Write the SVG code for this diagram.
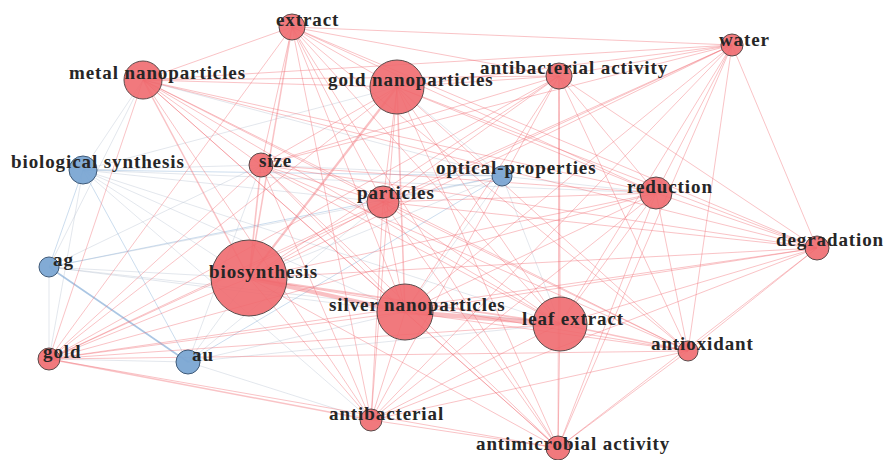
<svg xmlns="http://www.w3.org/2000/svg" width="888" height="460" viewBox="0 0 888 460">
<style>
.r{stroke:#f06a70;stroke-opacity:0.4;stroke-width:1;fill:none}
.t{stroke:#f06a70;stroke-opacity:0.42;fill:none}
.m{stroke:#b9c3d3;stroke-opacity:0.4;stroke-width:1;fill:none}
.b{stroke:#8fb3d9;stroke-opacity:0.45;stroke-width:1;fill:none}
.nr{fill:#ef6a6f;fill-opacity:0.9;stroke:#5a4a4a;stroke-width:1}
.nb{fill:#7ba6d3;fill-opacity:0.95;stroke:#3f5a78;stroke-width:1}
text{font-family:"Liberation Serif","Times New Roman",serif;font-weight:bold;font-size:19px;letter-spacing:0.9px;fill:#262626}
</style>
<rect width="888" height="460" fill="#ffffff"/>
<g id="connectors">
<g id="mixed-edges">
<line class="m" x1="83" y1="170" x2="143" y2="80"/>
<line class="m" x1="83" y1="170" x2="261" y2="165"/>
<line class="m" x1="83" y1="170" x2="383" y2="202"/>
<line class="m" x1="83" y1="170" x2="249" y2="278"/>
<line class="m" x1="83" y1="170" x2="49" y2="359"/>
<line class="m" x1="83" y1="170" x2="405" y2="312"/>
<line class="m" x1="83" y1="170" x2="560" y2="324"/>
<line class="m" x1="83" y1="170" x2="656" y2="193"/>
<line class="m" x1="83" y1="170" x2="397" y2="87"/>
<line class="m" x1="83" y1="170" x2="371" y2="420"/>
<line class="m" x1="49" y1="267" x2="249" y2="278"/>
<line class="m" x1="49" y1="267" x2="49" y2="359"/>
<line class="m" x1="49" y1="267" x2="405" y2="312"/>
<line class="m" x1="49" y1="267" x2="560" y2="324"/>
<line class="m" x1="49" y1="267" x2="383" y2="202"/>
<line class="m" x1="49" y1="267" x2="261" y2="165"/>
<line class="m" x1="49" y1="267" x2="143" y2="80"/>
<line class="m" x1="188" y1="362" x2="249" y2="278"/>
<line class="m" x1="188" y1="362" x2="49" y2="359"/>
<line class="m" x1="188" y1="362" x2="405" y2="312"/>
<line class="m" x1="188" y1="362" x2="560" y2="324"/>
<line class="m" x1="188" y1="362" x2="383" y2="202"/>
<line class="m" x1="188" y1="362" x2="371" y2="420"/>
<line class="m" x1="188" y1="362" x2="261" y2="165"/>
<line class="m" x1="502" y1="176" x2="249" y2="278"/>
<line class="m" x1="502" y1="176" x2="405" y2="312"/>
<line class="m" x1="502" y1="176" x2="560" y2="324"/>
<line class="m" x1="502" y1="176" x2="261" y2="165"/>
<line class="m" x1="502" y1="176" x2="397" y2="87"/>
<line class="m" x1="502" y1="176" x2="383" y2="202"/>
<line class="m" x1="502" y1="176" x2="656" y2="193"/>
<line class="m" x1="502" y1="176" x2="143" y2="80"/>
</g>
<g id="blue-edges">
<line class="b" x1="83" y1="170" x2="502" y2="176"/>
<line class="b" x1="83" y1="170" x2="49" y2="267"/>
<line class="b" x1="83" y1="170" x2="188" y2="362"/>
<line class="b" x1="49" y1="267" x2="188" y2="362" style="stroke-width:1.6;stroke-opacity:0.75"/>
<line class="b" x1="49" y1="267" x2="502" y2="176"/>
<line class="b" x1="188" y1="362" x2="502" y2="176"/>
</g>
<g id="red-edges">
<line class="r" x1="292" y1="27" x2="143" y2="80"/>
<line class="r" x1="292" y1="27" x2="397" y2="87"/>
<line class="r" x1="292" y1="27" x2="559" y2="76"/>
<line class="r" x1="292" y1="27" x2="732" y2="45"/>
<line class="r" x1="292" y1="27" x2="261" y2="165"/>
<line class="r" x1="292" y1="27" x2="383" y2="202"/>
<line class="r" x1="292" y1="27" x2="656" y2="193"/>
<line class="r" x1="292" y1="27" x2="817" y2="248"/>
<line class="r" x1="292" y1="27" x2="249" y2="278" style="stroke-width:1.5"/>
<line class="r" x1="292" y1="27" x2="49" y2="359"/>
<line class="r" x1="292" y1="27" x2="405" y2="312"/>
<line class="r" x1="292" y1="27" x2="560" y2="324"/>
<line class="r" x1="292" y1="27" x2="371" y2="420"/>
<line class="r" x1="292" y1="27" x2="558" y2="448"/>
<line class="r" x1="292" y1="27" x2="688" y2="351"/>
<line class="r" x1="143" y1="80" x2="397" y2="87"/>
<line class="r" x1="143" y1="80" x2="559" y2="76"/>
<line class="r" x1="143" y1="80" x2="732" y2="45"/>
<line class="r" x1="143" y1="80" x2="261" y2="165"/>
<line class="r" x1="143" y1="80" x2="383" y2="202"/>
<line class="r" x1="143" y1="80" x2="656" y2="193"/>
<line class="r" x1="143" y1="80" x2="817" y2="248"/>
<line class="r" x1="143" y1="80" x2="249" y2="278" style="stroke-width:1.5"/>
<line class="r" x1="143" y1="80" x2="49" y2="359"/>
<line class="r" x1="143" y1="80" x2="405" y2="312"/>
<line class="r" x1="143" y1="80" x2="560" y2="324"/>
<line class="r" x1="143" y1="80" x2="371" y2="420"/>
<line class="r" x1="143" y1="80" x2="558" y2="448"/>
<line class="r" x1="143" y1="80" x2="688" y2="351"/>
<line class="r" x1="397" y1="87" x2="559" y2="76"/>
<line class="r" x1="397" y1="87" x2="732" y2="45"/>
<line class="r" x1="397" y1="87" x2="261" y2="165"/>
<line class="r" x1="397" y1="87" x2="383" y2="202"/>
<line class="r" x1="397" y1="87" x2="656" y2="193"/>
<line class="r" x1="397" y1="87" x2="817" y2="248"/>
<line class="r" x1="397" y1="87" x2="49" y2="359"/>
<line class="r" x1="397" y1="87" x2="405" y2="312" style="stroke-width:1.6"/>
<line class="r" x1="397" y1="87" x2="560" y2="324"/>
<line class="r" x1="397" y1="87" x2="371" y2="420"/>
<line class="r" x1="397" y1="87" x2="558" y2="448"/>
<line class="r" x1="397" y1="87" x2="688" y2="351"/>
<line class="r" x1="559" y1="76" x2="732" y2="45"/>
<line class="r" x1="559" y1="76" x2="261" y2="165"/>
<line class="r" x1="559" y1="76" x2="383" y2="202"/>
<line class="r" x1="559" y1="76" x2="656" y2="193"/>
<line class="r" x1="559" y1="76" x2="817" y2="248"/>
<line class="r" x1="559" y1="76" x2="249" y2="278"/>
<line class="r" x1="559" y1="76" x2="49" y2="359"/>
<line class="r" x1="559" y1="76" x2="405" y2="312"/>
<line class="r" x1="559" y1="76" x2="560" y2="324" style="stroke-width:1.4"/>
<line class="r" x1="559" y1="76" x2="371" y2="420"/>
<line class="r" x1="559" y1="76" x2="558" y2="448"/>
<line class="r" x1="559" y1="76" x2="688" y2="351"/>
<line class="r" x1="732" y1="45" x2="261" y2="165"/>
<line class="r" x1="732" y1="45" x2="383" y2="202"/>
<line class="r" x1="732" y1="45" x2="656" y2="193"/>
<line class="r" x1="732" y1="45" x2="817" y2="248"/>
<line class="r" x1="732" y1="45" x2="249" y2="278"/>
<line class="r" x1="732" y1="45" x2="405" y2="312"/>
<line class="r" x1="732" y1="45" x2="560" y2="324"/>
<line class="r" x1="732" y1="45" x2="371" y2="420"/>
<line class="r" x1="732" y1="45" x2="558" y2="448"/>
<line class="r" x1="732" y1="45" x2="688" y2="351"/>
<line class="r" x1="732" y1="45" x2="49" y2="359"/>
<line class="r" x1="261" y1="165" x2="383" y2="202"/>
<line class="r" x1="261" y1="165" x2="656" y2="193"/>
<line class="r" x1="261" y1="165" x2="817" y2="248"/>
<line class="r" x1="261" y1="165" x2="249" y2="278" style="stroke-width:1.6"/>
<line class="r" x1="261" y1="165" x2="49" y2="359"/>
<line class="r" x1="261" y1="165" x2="405" y2="312"/>
<line class="r" x1="261" y1="165" x2="560" y2="324"/>
<line class="r" x1="261" y1="165" x2="371" y2="420"/>
<line class="r" x1="261" y1="165" x2="558" y2="448"/>
<line class="r" x1="261" y1="165" x2="688" y2="351"/>
<line class="r" x1="383" y1="202" x2="656" y2="193"/>
<line class="r" x1="383" y1="202" x2="817" y2="248"/>
<line class="r" x1="383" y1="202" x2="249" y2="278"/>
<line class="r" x1="383" y1="202" x2="49" y2="359"/>
<line class="r" x1="383" y1="202" x2="405" y2="312"/>
<line class="r" x1="383" y1="202" x2="560" y2="324"/>
<line class="r" x1="383" y1="202" x2="371" y2="420"/>
<line class="r" x1="383" y1="202" x2="558" y2="448"/>
<line class="r" x1="383" y1="202" x2="688" y2="351"/>
<line class="r" x1="656" y1="193" x2="817" y2="248"/>
<line class="r" x1="656" y1="193" x2="249" y2="278"/>
<line class="r" x1="656" y1="193" x2="49" y2="359"/>
<line class="r" x1="656" y1="193" x2="405" y2="312"/>
<line class="r" x1="656" y1="193" x2="560" y2="324"/>
<line class="r" x1="656" y1="193" x2="371" y2="420"/>
<line class="r" x1="656" y1="193" x2="558" y2="448"/>
<line class="r" x1="656" y1="193" x2="688" y2="351"/>
<line class="r" x1="817" y1="248" x2="249" y2="278"/>
<line class="r" x1="817" y1="248" x2="49" y2="359"/>
<line class="r" x1="817" y1="248" x2="405" y2="312"/>
<line class="r" x1="817" y1="248" x2="560" y2="324"/>
<line class="r" x1="817" y1="248" x2="371" y2="420"/>
<line class="r" x1="817" y1="248" x2="558" y2="448"/>
<line class="r" x1="817" y1="248" x2="688" y2="351"/>
<line class="r" x1="249" y1="278" x2="49" y2="359"/>
<line class="r" x1="249" y1="278" x2="560" y2="324" style="stroke-width:1.8"/>
<line class="r" x1="249" y1="278" x2="371" y2="420"/>
<line class="r" x1="249" y1="278" x2="558" y2="448"/>
<line class="r" x1="249" y1="278" x2="688" y2="351"/>
<line class="r" x1="49" y1="359" x2="405" y2="312"/>
<line class="r" x1="49" y1="359" x2="560" y2="324"/>
<line class="r" x1="49" y1="359" x2="371" y2="420" style="stroke-width:1.4"/>
<line class="r" x1="49" y1="359" x2="558" y2="448"/>
<line class="r" x1="49" y1="359" x2="688" y2="351"/>
<line class="r" x1="405" y1="312" x2="371" y2="420"/>
<line class="r" x1="405" y1="312" x2="558" y2="448"/>
<line class="r" x1="405" y1="312" x2="688" y2="351"/>
<line class="r" x1="560" y1="324" x2="371" y2="420"/>
<line class="r" x1="560" y1="324" x2="558" y2="448"/>
<line class="r" x1="560" y1="324" x2="688" y2="351" style="stroke-width:1.6"/>
<line class="r" x1="371" y1="420" x2="558" y2="448"/>
<line class="r" x1="371" y1="420" x2="688" y2="351"/>
<line class="r" x1="558" y1="448" x2="688" y2="351"/>
</g>
<g id="strong-edges">
<line class="t" x1="397" y1="87" x2="249" y2="278" stroke-width="2.2"/>
<line class="t" x1="249" y1="278" x2="405" y2="312" stroke-width="4"/>
<line class="t" x1="405" y1="312" x2="560" y2="324" stroke-width="4.5"/>
</g>
</g>
<g id="node-extract"><circle class="nr" cx="292" cy="27" r="13"/><text x="276" y="26">extract</text></g>
<g id="node-metal-nanoparticles"><circle class="nr" cx="143" cy="80" r="19"/><text x="69" y="79">metal nanoparticles</text></g>
<g id="node-gold-nanoparticles"><circle class="nr" cx="397" cy="87" r="27"/><text x="328" y="86">gold nanoparticles</text></g>
<g id="node-antibacterial-activity"><circle class="nr" cx="559" cy="76" r="13"/><text x="480" y="74">antibacterial activity</text></g>
<g id="node-water"><circle class="nr" cx="732" cy="45" r="11"/><text x="719" y="46">water</text></g>
<g id="node-biological-synthesis"><circle class="nb" cx="83" cy="170" r="14"/><text x="11" y="168">biological synthesis</text></g>
<g id="node-size"><circle class="nr" cx="261" cy="165" r="12"/><text x="259" y="167">size</text></g>
<g id="node-optical-properties"><circle class="nb" cx="502" cy="176" r="10"/><text x="436" y="174">optical-properties</text></g>
<g id="node-particles"><circle class="nr" cx="383" cy="202" r="16"/><text x="357" y="199">particles</text></g>
<g id="node-reduction"><circle class="nr" cx="656" cy="193" r="16"/><text x="627" y="193">reduction</text></g>
<g id="node-degradation"><circle class="nr" cx="817" cy="248" r="12"/><text x="776" y="246">degradation</text></g>
<g id="node-ag"><circle class="nb" cx="49" cy="267" r="10"/><text x="53" y="266">ag</text></g>
<g id="node-biosynthesis"><circle class="nr" cx="249" cy="278" r="38"/><text x="209" y="278">biosynthesis</text></g>
<g id="node-gold"><circle class="nr" cx="49" cy="359" r="11"/><text x="43" y="358">gold</text></g>
<g id="node-au"><circle class="nb" cx="188" cy="362" r="12"/><text x="192" y="361">au</text></g>
<g id="node-silver-nanoparticles"><circle class="nr" cx="405" cy="312" r="28"/><text x="329" y="311">silver nanoparticles</text></g>
<g id="node-leaf-extract"><circle class="nr" cx="560" cy="324" r="27"/><text x="522" y="325">leaf extract</text></g>
<g id="node-antioxidant"><circle class="nr" cx="688" cy="351" r="10"/><text x="651" y="350">antioxidant</text></g>
<g id="node-antibacterial"><circle class="nr" cx="371" cy="420" r="11"/><text x="329" y="420">antibacterial</text></g>
<g id="node-antimicrobial-activity"><circle class="nr" cx="558" cy="448" r="12"/><text x="476" y="450">antimicrobial activity</text></g>
</svg>
